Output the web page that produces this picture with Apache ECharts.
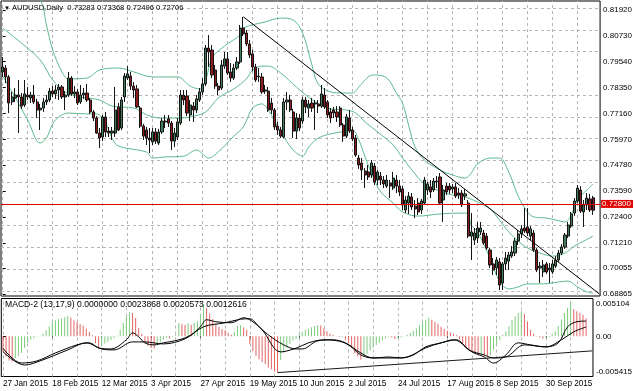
<!DOCTYPE html>
<html><head><meta charset="utf-8">
<script src="https://cdn.jsdelivr.net/npm/echarts@6/dist/echarts.min.js"></script>
<style>html,body{margin:0;padding:0;background:#fff}#c{width:635px;height:391px}</style>
</head><body><div id="c"></div>
<script>
// ---- data ----
const opens = [0.7907,0.7925,0.7884,0.7769,0.7787,0.7801,0.7792,0.7755,0.7801,0.7787,0.7801,0.7769,0.7732,0.7741,0.7769,0.7778,0.7819,0.7806,0.7824,0.7838,0.7792,0.7801,0.7879,0.7806,0.7815,0.7769,0.7801,0.7810,0.7778,0.7723,0.7695,0.7626,0.7608,0.7700,0.7635,0.7626,0.7626,0.7746,0.7649,0.7792,0.7879,0.7888,0.7842,0.7829,0.7741,0.7658,0.7640,0.7603,0.7585,0.7631,0.7580,0.7631,0.7681,0.7691,0.7672,0.7589,0.7608,0.7672,0.7801,0.7796,0.7709,0.7750,0.7732,0.7778,0.7815,0.7852,0.8017,0.8008,0.7916,0.7842,0.7833,0.7934,0.7967,0.7907,0.7879,0.7925,0.7953,0.8109,0.8086,0.8036,0.7990,0.7930,0.7884,0.7884,0.7824,0.7819,0.7764,0.7732,0.7658,0.7640,0.7608,0.7769,0.7778,0.7723,0.7635,0.7695,0.7681,0.7778,0.7741,0.7764,0.7760,0.7760,0.7750,0.7801,0.7769,0.7723,0.7732,0.7723,0.7741,0.7663,0.7612,0.7695,0.7640,0.7603,0.7511,0.7488,0.7451,0.7447,0.7433,0.7474,0.7410,0.7428,0.7410,0.7382,0.7396,0.7373,0.7410,0.7382,0.7369,0.7272,0.7304,0.7332,0.7290,0.7304,0.7272,0.7304,0.7364,0.7378,0.7364,0.7401,0.7424,0.7318,0.7382,0.7382,0.7369,0.7378,0.7350,0.7350,0.7336,0.7304,0.7152,0.7134,0.7143,0.7171,0.7166,0.7152,0.7088,0.7024,0.7005,0.7033,0.6936,0.7024,0.7037,0.7060,0.7074,0.7129,0.7162,0.7189,0.7194,0.7152,0.7166,0.7088,0.7005,0.6987,0.7024,0.6996,0.6987,0.7014,0.7042,0.7074,0.7102,0.7152,0.7198,0.7258,0.7313,0.7364,0.7263,0.7295,0.7323,0.73283];
const closes = [0.7930,0.7884,0.7764,0.7792,0.7801,0.7792,0.7750,0.7806,0.7792,0.7801,0.7769,0.7732,0.7741,0.7769,0.7778,0.7819,0.7806,0.7824,0.7838,0.7792,0.7801,0.7879,0.7806,0.7815,0.7764,0.7801,0.7810,0.7778,0.7723,0.7695,0.7626,0.7603,0.7700,0.7631,0.7626,0.7635,0.7732,0.7640,0.7778,0.7888,0.7898,0.7842,0.7824,0.7746,0.7658,0.7612,0.7603,0.7594,0.7631,0.7589,0.7631,0.7681,0.7677,0.7672,0.7589,0.7626,0.7677,0.7801,0.7778,0.7718,0.7755,0.7732,0.7783,0.7815,0.7852,0.8017,0.7999,0.7893,0.7842,0.7824,0.7939,0.7967,0.7902,0.7879,0.7925,0.7953,0.8109,0.8082,0.8036,0.7985,0.7930,0.7870,0.7888,0.7815,0.7819,0.7732,0.7732,0.7654,0.7640,0.7612,0.7769,0.7778,0.7732,0.7635,0.7695,0.7649,0.7778,0.7746,0.7760,0.7741,0.7764,0.7750,0.7806,0.7746,0.7709,0.7695,0.7718,0.7700,0.7663,0.7612,0.7700,0.7635,0.7599,0.7525,0.7479,0.7456,0.7433,0.7424,0.7488,0.7401,0.7447,0.7410,0.7392,0.7410,0.7382,0.7419,0.7382,0.7355,0.7295,0.7318,0.7336,0.7286,0.7277,0.7263,0.7313,0.7410,0.7392,0.7355,0.7405,0.7405,0.7304,0.7364,0.7355,0.7364,0.7378,0.7336,0.7341,0.7295,0.7346,0.7152,0.7171,0.7166,0.7189,0.7189,0.7120,0.7097,0.7019,0.6996,0.7042,0.6927,0.7024,0.7051,0.7065,0.7079,0.7129,0.7162,0.7185,0.7175,0.7166,0.7185,0.7088,0.6996,0.7014,0.7019,0.6987,0.7005,0.7024,0.7042,0.7074,0.7102,0.7157,0.7203,0.7254,0.7313,0.7373,0.7267,0.7295,0.7327,0.7272,0.72706];
const lows = [0.7884,0.7856,0.7718,0.7755,0.7769,0.7626,0.7737,0.7746,0.7778,0.7764,0.7760,0.7695,0.7640,0.7723,0.7755,0.7769,0.7792,0.7783,0.7778,0.7783,0.7732,0.7792,0.7796,0.7787,0.7755,0.7760,0.7783,0.7769,0.7714,0.7681,0.7622,0.7557,0.7589,0.7608,0.7608,0.7594,0.7608,0.7635,0.7640,0.7769,0.7870,0.7824,0.7787,0.7741,0.7649,0.7594,0.7571,0.7534,0.7571,0.7576,0.7571,0.7622,0.7649,0.7654,0.7548,0.7562,0.7594,0.7663,0.7755,0.7704,0.7681,0.7677,0.7718,0.7769,0.7801,0.7842,0.7930,0.7879,0.7829,0.7801,0.7824,0.7921,0.7893,0.7861,0.7870,0.7916,0.7944,0.8072,0.8026,0.7971,0.7911,0.7861,0.7861,0.7806,0.7806,0.7723,0.7714,0.7640,0.7617,0.7603,0.7603,0.7732,0.7723,0.7603,0.7599,0.7635,0.7668,0.7718,0.7700,0.7723,0.7640,0.7718,0.7741,0.7737,0.7695,0.7672,0.7695,0.7677,0.7654,0.7585,0.7603,0.7626,0.7589,0.7516,0.7461,0.7410,0.7373,0.7410,0.7419,0.7387,0.7387,0.7387,0.7373,0.7373,0.7327,0.7364,0.7350,0.7336,0.7272,0.7258,0.7254,0.7272,0.7235,0.7249,0.7254,0.7295,0.7341,0.7327,0.7355,0.7373,0.7295,0.7217,0.7341,0.7346,0.7350,0.7327,0.7323,0.7286,0.7318,0.7143,0.7042,0.7111,0.7120,0.7157,0.7111,0.7088,0.7005,0.6973,0.6973,0.6904,0.6904,0.6996,0.6996,0.7051,0.7060,0.7111,0.7143,0.7166,0.7152,0.7134,0.7079,0.6987,0.6936,0.6964,0.6978,0.6936,0.6978,0.7005,0.7033,0.7065,0.7093,0.7143,0.7189,0.7244,0.7304,0.7258,0.7194,0.7272,0.7263,0.72496];
const highs = [0.7976,0.7939,0.7893,0.7815,0.7833,0.7870,0.7810,0.7870,0.7838,0.7815,0.7847,0.7783,0.7760,0.7787,0.7801,0.7833,0.7842,0.7847,0.7852,0.7847,0.7819,0.7907,0.7888,0.7842,0.7829,0.7847,0.7833,0.7852,0.7787,0.7732,0.7704,0.7649,0.7709,0.7723,0.7654,0.7654,0.7838,0.7764,0.7792,0.7902,0.7934,0.7907,0.7861,0.7847,0.7750,0.7668,0.7654,0.7649,0.7649,0.7649,0.7645,0.7695,0.7709,0.7709,0.7681,0.7649,0.7695,0.7824,0.7824,0.7824,0.7778,0.7769,0.7801,0.7833,0.7879,0.8031,0.8077,0.8031,0.7939,0.7856,0.7962,0.7999,0.7999,0.7948,0.7944,0.7976,0.8123,0.8160,0.8100,0.8054,0.8008,0.7944,0.7925,0.7902,0.7847,0.7838,0.7787,0.7741,0.7677,0.7654,0.7787,0.7815,0.7801,0.7737,0.7718,0.7714,0.7792,0.7792,0.7778,0.7787,0.7778,0.7778,0.7847,0.7833,0.7778,0.7741,0.7746,0.7750,0.7750,0.7672,0.7714,0.7732,0.7654,0.7617,0.7525,0.7511,0.7465,0.7479,0.7502,0.7488,0.7456,0.7447,0.7428,0.7433,0.7410,0.7447,0.7433,0.7410,0.7382,0.7336,0.7355,0.7350,0.7318,0.7327,0.7323,0.7424,0.7401,0.7410,0.7419,0.7428,0.7442,0.7387,0.7396,0.7396,0.7392,0.7396,0.7373,0.7364,0.7369,0.7318,0.7258,0.7189,0.7217,0.7217,0.7180,0.7166,0.7097,0.7051,0.7056,0.7051,0.7033,0.7079,0.7079,0.7106,0.7143,0.7180,0.7203,0.7281,0.7281,0.7198,0.7180,0.7097,0.7033,0.7042,0.7033,0.7028,0.7042,0.7060,0.7088,0.7116,0.7166,0.7217,0.7263,0.7327,0.7387,0.7382,0.7318,0.7350,0.7346,0.73368];

// Bollinger bands read at sampled bars: [bar, price]
const bbUpper = [[0,0.8339],[6,0.8302],[12,0.8238],[14,0.8123],[16,0.8008],[19,0.7907],[21,0.7875],[27,0.7879],[31,0.7916],[37,0.7925],[42,0.7907],[48,0.7884],[56,0.7884],[60,0.7842],[63,0.7829],[65,0.7870],[67,0.7971],[71,0.8026],[76,0.8077],[77,0.8109],[84,0.8137],[89,0.8155],[93,0.8146],[96,0.8086],[99,0.7939],[101,0.7852],[105,0.7815],[109,0.7810],[112,0.7810],[114,0.7838],[117,0.7884],[119,0.7893],[123,0.7879],[126,0.7810],[128,0.7764],[130,0.7658],[132,0.7562],[135,0.7502],[140,0.7456],[144,0.7433],[148,0.7419],[150,0.7442],[152,0.7484],[156,0.7511],[159,0.7511],[162,0.7447],[165,0.7336],[168,0.7263],[170,0.7240],[174,0.7235],[177,0.7226],[180,0.7217],[182,0.7249],[184,0.7318],[187,0.7364],[189,0.7392]];
const bbMiddle = [[0,0.8109],[6,0.8040],[12,0.7962],[16,0.7870],[20,0.7815],[25,0.7792],[31,0.7778],[35,0.7750],[42,0.7741],[45,0.7718],[48,0.7700],[52,0.7695],[57,0.7695],[60,0.7700],[65,0.7723],[69,0.7787],[74,0.7829],[78,0.7875],[80,0.7916],[83,0.7934],[85,0.7934],[89,0.7902],[94,0.7838],[97,0.7801],[101,0.7760],[105,0.7737],[110,0.7732],[113,0.7718],[116,0.7677],[120,0.7631],[125,0.7571],[128,0.7511],[131,0.7456],[135,0.7392],[140,0.7359],[144,0.7341],[148,0.7332],[152,0.7309],[156,0.7277],[159,0.7226],[162,0.7171],[165,0.7129],[168,0.7097],[172,0.7074],[176,0.7060],[180,0.7074],[183,0.7106],[186,0.7129],[189,0.7152]];
const bbLower = [[0,0.7888],[3,0.7815],[8,0.7686],[12,0.7580],[14,0.7603],[16,0.7668],[18,0.7700],[21,0.7718],[27,0.7714],[30,0.7714],[33,0.7668],[35,0.7603],[37,0.7566],[46,0.7539],[48,0.7511],[52,0.7516],[58,0.7520],[62,0.7548],[66,0.7511],[69,0.7539],[74,0.7612],[77,0.7654],[80,0.7741],[83,0.7760],[85,0.7732],[89,0.7631],[93,0.7548],[96,0.7520],[98,0.7562],[101,0.7603],[105,0.7622],[110,0.7635],[112,0.7640],[114,0.7594],[116,0.7516],[119,0.7410],[121,0.7355],[125,0.7304],[128,0.7263],[133,0.7244],[140,0.7254],[148,0.7258],[149,0.7254],[150,0.7203],[152,0.7171],[156,0.7051],[159,0.6945],[162,0.6909],[165,0.6918],[168,0.6932],[173,0.6932],[178,0.6941],[181,0.6945],[184,0.6918],[187,0.6895],[189,0.6890]];

// MACD-2 histogram, one value per bar
const macdHist = [-0.00204,-0.00271,-0.00326,-0.00339,-0.00294,-0.00262,-0.00226,-0.00158,-0.00090,-0.00045,-0.00023,0.00005,0.00009,0.00036,0.00081,0.00136,0.00190,0.00217,0.00231,0.00240,0.00258,0.00276,0.00253,0.00217,0.00190,0.00167,0.00145,0.00104,0.00059,0.00014,-0.00090,-0.00158,-0.00118,-0.00095,-0.00072,-0.00050,-0.00027,0.00009,0.00090,0.00181,0.00271,0.00325,0.00316,0.00249,0.00113,0.00036,-0.00081,-0.00127,-0.00158,-0.00163,-0.00113,-0.00081,-0.00045,-0.00023,-0.00030,-0.00010,0.00023,0.00181,0.00167,0.00154,0.00176,0.00158,0.00181,0.00203,0.00294,0.00429,0.00384,0.00307,0.00235,0.00167,0.00127,0.00099,0.00081,0.00050,0.00020,0.00060,0.00140,0.00150,0.00120,0.00090,-0.00100,-0.00200,-0.00265,-0.00310,-0.00345,-0.00375,-0.00420,-0.00445,-0.00475,-0.00488,-0.00320,-0.00220,-0.00150,-0.00100,-0.00060,-0.00035,0.00025,0.00060,0.00088,0.00105,0.00122,0.00138,0.00150,0.00145,0.00110,0.00070,0.00035,0.00018,0.00005,-0.00010,-0.00008,-0.00045,-0.00090,-0.00158,-0.00226,-0.00271,-0.00316,-0.00280,-0.00235,-0.00190,-0.00150,-0.00118,-0.00085,-0.00055,-0.00030,-0.00010,-0.00015,-0.00036,-0.00030,-0.00015,0.00005,0.00023,0.00045,0.00075,0.00105,0.00150,0.00195,0.00220,0.00250,0.00225,0.00195,0.00170,0.00130,0.00100,0.00078,0.00055,0.00035,0.00015,-0.00040,-0.00095,-0.00155,-0.00180,-0.00200,-0.00222,-0.00245,-0.00240,-0.00250,-0.00271,-0.00250,-0.00181,-0.00113,-0.00050,0.00020,0.00068,0.00136,0.00220,0.00271,0.00316,0.00339,0.00300,0.00200,0.00090,0.00035,0.00005,-0.00015,-0.00030,-0.00020,-0.00010,0.00040,0.00070,0.00136,0.00226,0.00316,0.00385,0.00470,0.00365,0.00340,0.00318,0.00290,0.00239];
// MACD lines read at sampled bars: [bar, value]
const macdLine = [[0,-0.00160],[6,-0.00360],[11,-0.00332],[17,-0.00224],[24,-0.00115],[28,-0.00088],[31,-0.00156],[35,-0.00170],[40,-0.00047],[42,0.00047],[44,-0.00007],[46,-0.00088],[49,-0.00115],[52,-0.00088],[57,-0.00047],[61,0.00020],[64,0.00129],[66,0.00224],[69,0.00197],[74,0.00183],[78,0.00251],[81,0.00197],[84,0.00088],[90,-0.00210],[95,-0.00160],[99,-0.00088],[104,-0.00047],[108,-0.00057],[112,-0.00115],[116,-0.00251],[120,-0.00292],[125,-0.00278],[129,-0.00292],[133,-0.00251],[137,-0.00142],[142,-0.00088],[146,-0.00047],[148,-0.00075],[152,-0.00210],[156,-0.00278],[159,-0.00360],[163,-0.00251],[167,-0.00088],[171,-0.00115],[176,-0.00142],[180,-0.00088],[183,0.00129],[186,0.00197],[189,0.0020573]];
const signalLine = [[0,-0.00206],[7,-0.00387],[12,-0.00332],[21,-0.00183],[27,-0.00088],[32,-0.00170],[36,-0.00183],[42,-0.00075],[46,-0.00075],[52,-0.00102],[59,-0.00034],[65,0.00129],[72,0.00183],[77,0.00231],[80,0.00237],[83,0.00129],[86,0.00020],[91,-0.00115],[95,-0.00170],[97,-0.00170],[102,-0.00061],[107,-0.00047],[111,-0.00088],[116,-0.00224],[120,-0.00292],[127,-0.00292],[131,-0.00278],[137,-0.00156],[142,-0.00088],[147,-0.00047],[151,-0.00183],[156,-0.00251],[159,-0.00292],[163,-0.00278],[169,-0.00115],[176,-0.00142],[181,-0.00047],[185,0.00061],[189,0.0012616]];

// drawn objects (bar, value)
const priceTrend = [[77,0.8161],[191,0.6886]];
const macdTrend = [[89,-0.00489],[191,-0.00196]];
const redLevel = 0.72800;

// axis ticks / labels
const priceTicks = [0.68865,0.70055,0.71210,0.72400,0.73590,0.74780,0.75970,0.77160,0.78350,0.79540,0.80730,0.81920];
const macdTicks = [-0.005415,0,0.005104];
const macdTickLabels = ['-0.005415','0.00','0.005104'];
const dateTickBars = [0,16,32,48,64,80,96,112,128,144,160,176];
const dateLabels = ['27 Jan 2015','18 Feb 2015','12 Mar 2015','3 Apr 2015','27 Apr 2015','19 May 2015','10 Jun 2015','2 Jul 2015','24 Jul 2015','17 Aug 2015','8 Sep 2015','30 Sep 2015'];
const gridBars = [0,8,16,24,32,40,48,56,64,72,80,88,96,104,112,120,128,136,144,152,160,168,176,184];
const macdHeaderValues = ['0.0000000','0.0023868','0.0020573','0.0012616'];

// ---- chart ----
const FONT = 'Liberation Sans';
const X_MIN = -0.5424, X_MAX = 191.23;
const last = opens.length - 1;
const header = 'AUDUSD,Daily  ' + [opens[last], highs[last], lows[last], closes[last]].map(v => v.toFixed(5)).join(' ');
const candleData = opens.map((o, i) => [i, o, closes[i], lows[i], highs[i]]);
const gridStyle = {color: '#b5b5b5', type: [3, 3], width: 1};
const bandStyle = {color: '#5dbb8e', width: 1};

const chart = echarts.init(document.getElementById('c'), null, {renderer: 'canvas'});
chart.setOption({
  animation: false,
  backgroundColor: '#fff',
  title: [
    {left: 4, top: 4, padding: 0, text: '{a|▼} ' + header,
     textStyle: {fontSize: 7.6, fontWeight: 'normal', color: '#000', fontFamily: FONT, rich: {a: {fontSize: 6, color: '#000'}}}},
    {left: 5, top: 300.5, padding: 0, text: 'MACD-2 (13,17,9) ' + macdHeaderValues.join(' '),
     textStyle: {fontSize: 8.6, fontWeight: 'normal', color: '#000', fontFamily: FONT}}
  ],
  grid: [
    {left: 1, top: 1, width: 601, height: 295, show: true, borderColor: '#000', borderWidth: 1, backgroundColor: 'transparent'},
    {left: 1, top: 298.5, width: 601, height: 78, show: true, borderColor: '#000', borderWidth: 1, backgroundColor: 'transparent'}
  ],
  xAxis: [
    {gridIndex: 0, type: 'value', min: X_MIN, max: X_MAX, axisLine: {show: false}, axisTick: {show: false}, axisLabel: {show: false}, splitLine: {show: false}},
    {gridIndex: 1, type: 'value', min: X_MIN, max: X_MAX, axisLine: {show: false},
     axisTick: {show: true, customValues: dateTickBars, length: 3, lineStyle: {color: '#000'}},
     axisLabel: {customValues: dateTickBars, formatter: v => dateLabels[dateTickBars.indexOf(v)], align: 'left', margin: 3, fontSize: 8.2, color: '#000', fontFamily: FONT},
     splitLine: {show: false}}
  ],
  yAxis: [
    {gridIndex: 0, type: 'value', position: 'right', min: 0.68764, max: 0.82334, axisLine: {show: false},
     axisTick: {show: true, customValues: priceTicks, length: 3, lineStyle: {color: '#000'}},
     axisLabel: {customValues: priceTicks, formatter: v => v.toFixed(5), margin: 3, fontSize: 8, color: '#000', fontFamily: FONT},
     splitLine: {show: false}},
    {gridIndex: 1, type: 'value', position: 'right', min: macdTicks[0], max: macdTicks[2], axisLine: {show: false},
     axisTick: {show: true, customValues: macdTicks, length: 3, lineStyle: {color: '#000'}},
     axisLabel: {customValues: macdTicks, margin: 3, fontSize: 8, color: '#000', fontFamily: FONT,
       formatter: v => {
         let k = 0; macdTicks.forEach((t, j) => { if (Math.abs(t - v) < 1e-9) k = j; });
         const s = macdTickLabels[k];
         return k === 2 ? '{t|' + s + '}' : (k === 0 ? '{b|' + s + '}' : s);
       },
       rich: {t: {padding: [11, 0, 0, 0], fontSize: 8, color: '#000', fontFamily: FONT}, b: {padding: [0, 0, 9, 0], fontSize: 8, color: '#000', fontFamily: FONT}}},
     splitLine: {show: false}}
  ],
  series: [
    {type: 'line', xAxisIndex: 0, yAxisIndex: 0, data: [], z: 1, silent: true,
     markLine: {silent: true, z: 1, symbol: ['none', 'none'], label: {show: false}, lineStyle: gridStyle, emphasis: {disabled: true},
       data: priceTicks.map(v => ({yAxis: v})).concat(gridBars.map(b => ({xAxis: b})))}},
    {type: 'line', xAxisIndex: 1, yAxisIndex: 1, data: [], z: 1, silent: true,
     markLine: {silent: true, z: 1, symbol: ['none', 'none'], label: {show: false}, lineStyle: gridStyle, emphasis: {disabled: true},
       data: gridBars.map(b => ({xAxis: b}))}},
    {name: 'upper', type: 'line', xAxisIndex: 0, yAxisIndex: 0, data: bbUpper, showSymbol: false, smooth: 0.35, lineStyle: bandStyle, silent: true, z: 2},
    {name: 'middle', type: 'line', xAxisIndex: 0, yAxisIndex: 0, data: bbMiddle, showSymbol: false, smooth: 0.35, lineStyle: bandStyle, silent: true, z: 2},
    {name: 'lower', type: 'line', xAxisIndex: 0, yAxisIndex: 0, data: bbLower, showSymbol: false, smooth: 0.35, lineStyle: bandStyle, silent: true, z: 2},
    {name: 'AUDUSD', type: 'candlestick', xAxisIndex: 0, yAxisIndex: 0, data: candleData, encode: {x: 0, y: [1, 2, 3, 4]},
     barWidth: 2.6, z: 3,
     itemStyle: {color: '#3f7d5b', color0: '#8e1c1c', borderColor: '#141414', borderColor0: '#141414', borderWidth: 1},
     markLine: {silent: true, symbol: ['none', 'none'], lineStyle: {color: '#e00000', width: 1, type: 'solid'},
       label: {show: true, position: 'end', distance: 1, formatter: redLevel.toFixed(5), color: '#fff', backgroundColor: '#e00000', fontSize: 8, fontFamily: FONT, lineHeight: 8, padding: [0, 2, 0, 1]},
       data: [{yAxis: redLevel}]}},
    {type: 'line', xAxisIndex: 0, yAxisIndex: 0, data: priceTrend, showSymbol: false, lineStyle: {color: '#000', width: 1}, silent: true, z: 4},
    {name: 'hist', type: 'bar', xAxisIndex: 1, yAxisIndex: 1, data: macdHist.map((v, i) => [i, v]), barWidth: 1, silent: true, z: 2,
     itemStyle: {color: p => (p.dataIndex > 0 && macdHist[p.dataIndex] >= macdHist[p.dataIndex - 1]) ? '#7dcc7d' : '#e26464'}},
    {name: 'macd', type: 'line', xAxisIndex: 1, yAxisIndex: 1, data: macdLine, showSymbol: false, smooth: 0.35, lineStyle: {color: '#000', width: 1}, silent: true, z: 3},
    {name: 'signal', type: 'line', xAxisIndex: 1, yAxisIndex: 1, data: signalLine, showSymbol: false, smooth: 0.35, lineStyle: {color: '#000', width: 1}, silent: true, z: 3},
    {type: 'line', xAxisIndex: 1, yAxisIndex: 1, data: macdTrend, showSymbol: false, lineStyle: {color: '#1a1a1a', width: 1}, silent: true, z: 4}
  ]
});
</script></body></html>
